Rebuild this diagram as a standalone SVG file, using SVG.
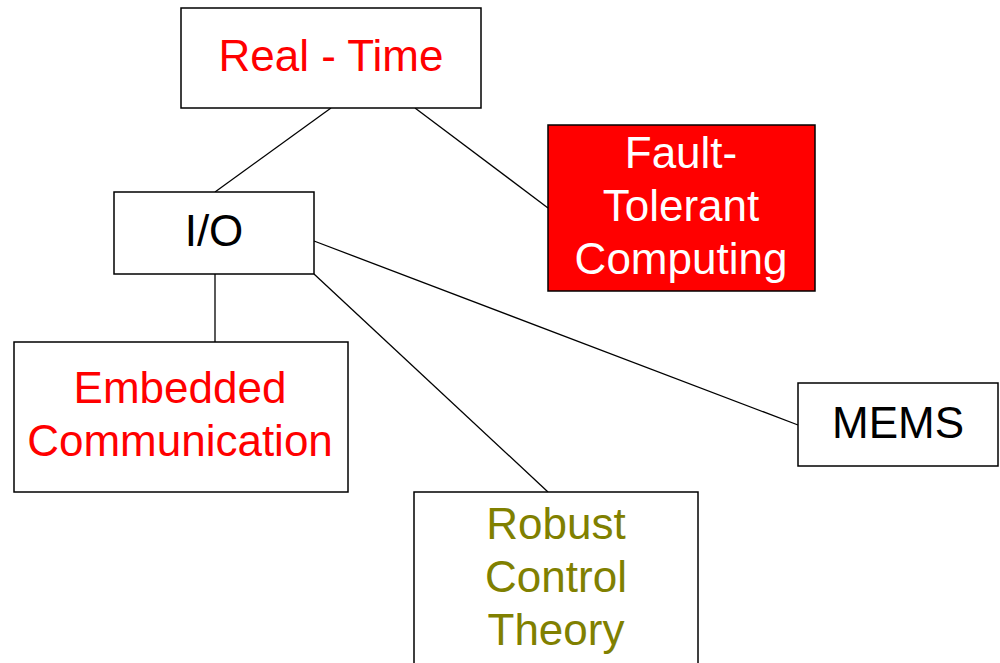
<svg xmlns="http://www.w3.org/2000/svg" width="1000" height="663" viewBox="0 0 1000 663">
<style>
.box{fill:#fff;stroke:#000;stroke-width:1.5}
.red{fill:#ff0000;stroke:#000;stroke-width:1.5}
text{font-family:"Liberation Sans",Arial,sans-serif;font-size:44px;text-anchor:middle}
.line{stroke:#000;stroke-width:1.3;fill:none}
</style>
<rect width="1000" height="663" fill="#fff"/>
<g id="connectors">
<line class="line" x1="331" y1="108" x2="215" y2="192"/>
<line class="line" x1="415" y1="108" x2="548" y2="208"/>
<line class="line" x1="215" y1="274" x2="215" y2="342"/>
<line class="line" x1="314" y1="274" x2="548" y2="492"/>
<line class="line" x1="314" y1="241" x2="798" y2="425"/>
</g>
<g id="realtime">
<rect class="box" x="181" y="8" width="300" height="100"/>
<text x="331" y="71" fill="#ff0000">Real - Time</text>
</g>
<g id="io">
<rect class="box" x="114" y="192" width="200" height="82"/>
<text x="214" y="246" fill="#000">I/O</text>
</g>
<g id="fault">
<rect class="red" x="548" y="125" width="267" height="166"/>
<text x="681" y="168" fill="#fff">Fault-</text>
<text x="681" y="221" fill="#fff">Tolerant</text>
<text x="681" y="274" fill="#fff">Computing</text>
</g>
<g id="embedded">
<rect class="box" x="14" y="342" width="334" height="150"/>
<text x="180" y="403" fill="#ff0000">Embedded</text>
<text x="180" y="456" fill="#ff0000">Communication</text>
</g>
<g id="robust">
<rect class="box" x="414" y="492" width="284" height="190"/>
<text x="556" y="539" fill="#808000">Robust</text>
<text x="556" y="592" fill="#808000">Control</text>
<text x="556" y="645" fill="#808000">Theory</text>
</g>
<g id="mems">
<rect class="box" x="798" y="383" width="200" height="83"/>
<text x="898" y="438" fill="#000">MEMS</text>
</g>
</svg>
